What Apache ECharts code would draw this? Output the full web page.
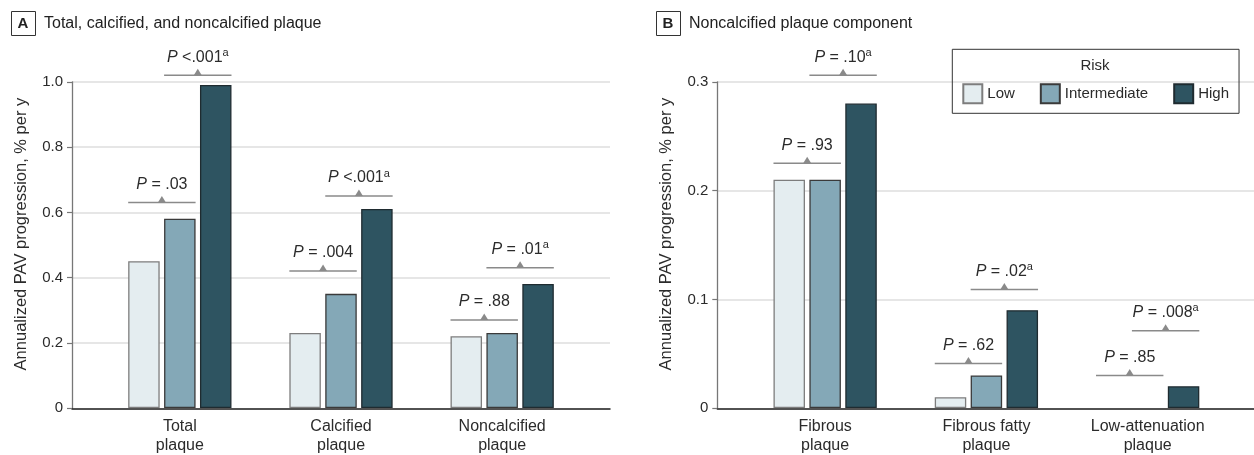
<!DOCTYPE html>
<html><head><meta charset="utf-8">
<script src="https://cdn.jsdelivr.net/npm/echarts@6/dist/echarts.min.js"></script>
<style>html,body{margin:0;padding:0;background:#fff}#c{width:1254px;height:455px}</style>
</head><body><div id="c"></div>
<script>
// ---------- data ----------
const riskLevels = ['Low', 'Intermediate', 'High'];

const categoriesA = ['Total\nplaque', 'Calcified\nplaque', 'Noncalcified\nplaque'];
const lowA = [0.45, 0.23, 0.22];
const intermediateA = [0.58, 0.35, 0.23];
const highA = [0.99, 0.61, 0.38];
const pLowIntA = [' = .03', ' = .004', ' = .88'];
const supLowIntA = ['', '', ''];
const pIntHighA = [' <.001', ' <.001', ' = .01'];
const supIntHighA = ['a', 'a', 'a'];
const levelLowIntA = [0.63, 0.42, 0.27];
const levelIntHighA = [1.02, 0.65, 0.43];

const categoriesB = ['Fibrous\nplaque', 'Fibrous fatty\nplaque', 'Low-attenuation\nplaque'];
const lowB = [0.21, 0.01, 0];
const intermediateB = [0.21, 0.03, 0];
const highB = [0.28, 0.09, 0.02];
const pLowIntB = [' = .93', ' = .62', ' = .85'];
const supLowIntB = ['', '', ''];
const pIntHighB = [' = .10', ' = .02', ' = .008'];
const supIntHighB = ['a', 'a', 'a'];
const levelLowIntB = [0.225, 0.041, 0.030];
const levelIntHighB = [0.306, 0.109, 0.071];

const yAxisTitle = 'Annualized PAV progression, % per y';
const titleA = 'Total, calcified, and noncalcified plaque';
const titleB = 'Noncalcified plaque component';

// ---------- styles ----------
const FONT = '"Liberation Sans", Arial, sans-serif';
const TXT = '#2b2b2b';
const COLORS = ['#e4edf0', '#84a8b7', '#2e5461'];
const BORDERS = ['#7d7d7d', '#3a3a3a', '#1f2b30'];
const BAR_W = 31.5, BAR_GAP = 4.4;
const GRAY = '#8a8a8a';

const chart = echarts.init(document.getElementById('c'), null, {renderer: 'canvas'});

function wideY(gi, max, interval) {
  return {
    type: 'value', gridIndex: gi, min: 0, max: max, interval: interval,
    axisLine: {show: true, lineStyle: {color: '#777', width: 1.3}},
    axisTick: {show: true, length: 5, lineStyle: {color: '#777', width: 1.2}},
    axisLabel: {margin: 9, fontSize: 15, color: TXT, fontFamily: FONT,
      formatter: v => v === 0 ? '0' : v.toFixed(1)},
    splitLine: {show: true, lineStyle: {color: '#dedede', width: 1.5}},
    name: yAxisTitle, nameLocation: 'middle', nameGap: 42,
    nameTextStyle: {fontSize: 16.5, color: TXT, fontFamily: FONT, padding: [0, 0, 0, 22]}
  };
}
function narrowY(gi, max, interval) {
  return {type: 'value', gridIndex: gi, min: 0, max: max, interval: interval, show: false,
    splitLine: {show: false}};
}
function wideX(gi) {
  return {type: 'value', gridIndex: gi, min: 0, max: 1,
    axisLine: {show: true, onZero: false, lineStyle: {color: '#222', width: 1.5}},
    axisTick: {show: false}, axisLabel: {show: false}, splitLine: {show: false}};
}
function catX(gi, cats) {
  return {type: 'category', gridIndex: gi, data: cats,
    axisLine: {show: false}, axisTick: {show: false},
    axisLabel: {margin: 9, fontSize: 16, lineHeight: 19, color: TXT, fontFamily: FONT, interval: 0}};
}
function bars(axisIdx, values) {
  return values.map((vals, k) => ({
    type: 'bar', name: riskLevels[k], xAxisIndex: axisIdx, yAxisIndex: axisIdx,
    data: vals.map(v => v === 0 ? {value: v, itemStyle: {borderWidth: 0, opacity: 0}} : v),
    barWidth: BAR_W, barGap: (BAR_GAP / BAR_W * 100) + '%', z: 3,
    itemStyle: {color: COLORS[k], borderColor: BORDERS[k], borderWidth: 1.3},
    emphasis: {disabled: true}
  }));
}
function brackets(axisIdx, levels, texts, sups, pair) {
  return {
    type: 'custom', xAxisIndex: axisIdx, yAxisIndex: axisIdx, silent: true, z: 6, clip: false,
    data: levels.map((y, i) => [i, y]),
    renderItem(params, api) {
      const i = params.dataIndex;
      const c = api.coord([api.value(0), api.value(1)]);
      const step = BAR_W + BAR_GAP;
      const x1 = c[0] + (pair - 1) * step - BAR_W / 2;
      const x2 = c[0] + pair * step + BAR_W / 2;
      const cx = (x1 + x2) / 2, y = c[1];
      const txt = '{i|P}{n|' + texts[i] + '}' + (sups[i] ? '{s|' + sups[i] + '}' : '');
      return {type: 'group', children: [
        {type: 'line', shape: {x1: x1, y1: y, x2: x2, y2: y}, style: {stroke: GRAY, lineWidth: 1.5}},
        {type: 'polygon', shape: {points: [[cx - 4, y], [cx + 4, y], [cx, y - 6.5]]}, style: {fill: GRAY}},
        {type: 'text', x: cx, y: y - 18, style: {
          text: txt, align: 'center', verticalAlign: 'middle',
          textAlign: 'center', textVerticalAlign: 'middle',
          fill: TXT, fontFamily: FONT, fontSize: 16,
          rich: {
            i: {fontStyle: 'italic', fontSize: 16, fontFamily: FONT, fill: TXT, color: TXT, lineHeight: 20},
            n: {fontSize: 16, fontFamily: FONT, fill: TXT, color: TXT, lineHeight: 20},
            s: {fontSize: 11, fontFamily: FONT, fill: TXT, color: TXT, verticalAlign: 'top', lineHeight: 12}
          }
        }}
      ]};
    }
  };
}

const gTop = 81.8, gBottom = 455 - 408.3;
const option = {
  animation: false,
  backgroundColor: '#fff',
  textStyle: {fontFamily: FONT},
  grid: [
    {left: 72, right: 1254 - 610, top: gTop, bottom: gBottom},
    {left: 99.25, right: 1254 - 582.75, top: gTop, bottom: gBottom},
    {left: 717.3, right: -1.5, top: gTop, bottom: gBottom},
    {left: 744.5, right: 1254 - 1228.3, top: gTop, bottom: gBottom}
  ],
  xAxis: [wideX(0), catX(1, categoriesA), wideX(2), catX(3, categoriesB)],
  yAxis: [wideY(0, 1.0, 0.2), narrowY(1, 1.0, 0.2), wideY(2, 0.3, 0.1), narrowY(3, 0.3, 0.1)],
  legend: {
    data: riskLevels, left: 952.3, top: 49.3, orient: 'horizontal',
    padding: [34, 10, 9, 10], itemWidth: 19, itemHeight: 19, itemGap: 25,
    borderColor: '#333', borderWidth: 1, selectedMode: false,
    icon: 'rect',
    textStyle: {fontSize: 15, color: TXT, fontFamily: FONT}
  },
  graphic: [
    {type: 'rect', left: 11, top: 11, shape: {width: 24, height: 24}, style: {fill: '#fff', stroke: '#333', lineWidth: 1}},
    {type: 'text', x: 23, y: 23.5, style: {text: 'A', align: 'center', verticalAlign: 'middle', fontSize: 15, fontWeight: 'bold', fill: '#222', fontFamily: FONT}},
    {type: 'text', x: 44, y: 23.5, style: {text: titleA, verticalAlign: 'middle', fontSize: 16, fill: '#222', fontFamily: FONT}},
    {type: 'rect', left: 656, top: 11, shape: {width: 24, height: 24}, style: {fill: '#fff', stroke: '#333', lineWidth: 1}},
    {type: 'text', x: 668, y: 23.5, style: {text: 'B', align: 'center', verticalAlign: 'middle', fontSize: 15, fontWeight: 'bold', fill: '#222', fontFamily: FONT}},
    {type: 'text', x: 689, y: 23.5, style: {text: titleB, verticalAlign: 'middle', fontSize: 16, fill: '#222', fontFamily: FONT}},
    {type: 'text', x: 1095, y: 66, z: 100, style: {text: 'Risk', align: 'center', verticalAlign: 'middle', fontSize: 15, fill: TXT, fontFamily: FONT}}
  ],
  series: [
    ...bars(1, [lowA, intermediateA, highA]),
    ...bars(3, [lowB, intermediateB, highB]),
    brackets(1, levelLowIntA, pLowIntA, supLowIntA, 0),
    brackets(1, levelIntHighA, pIntHighA, supIntHighA, 1),
    brackets(3, levelLowIntB, pLowIntB, supLowIntB, 0),
    brackets(3, levelIntHighB, pIntHighB, supIntHighB, 1)
  ]
};
chart.setOption(option);
</script></body></html>
